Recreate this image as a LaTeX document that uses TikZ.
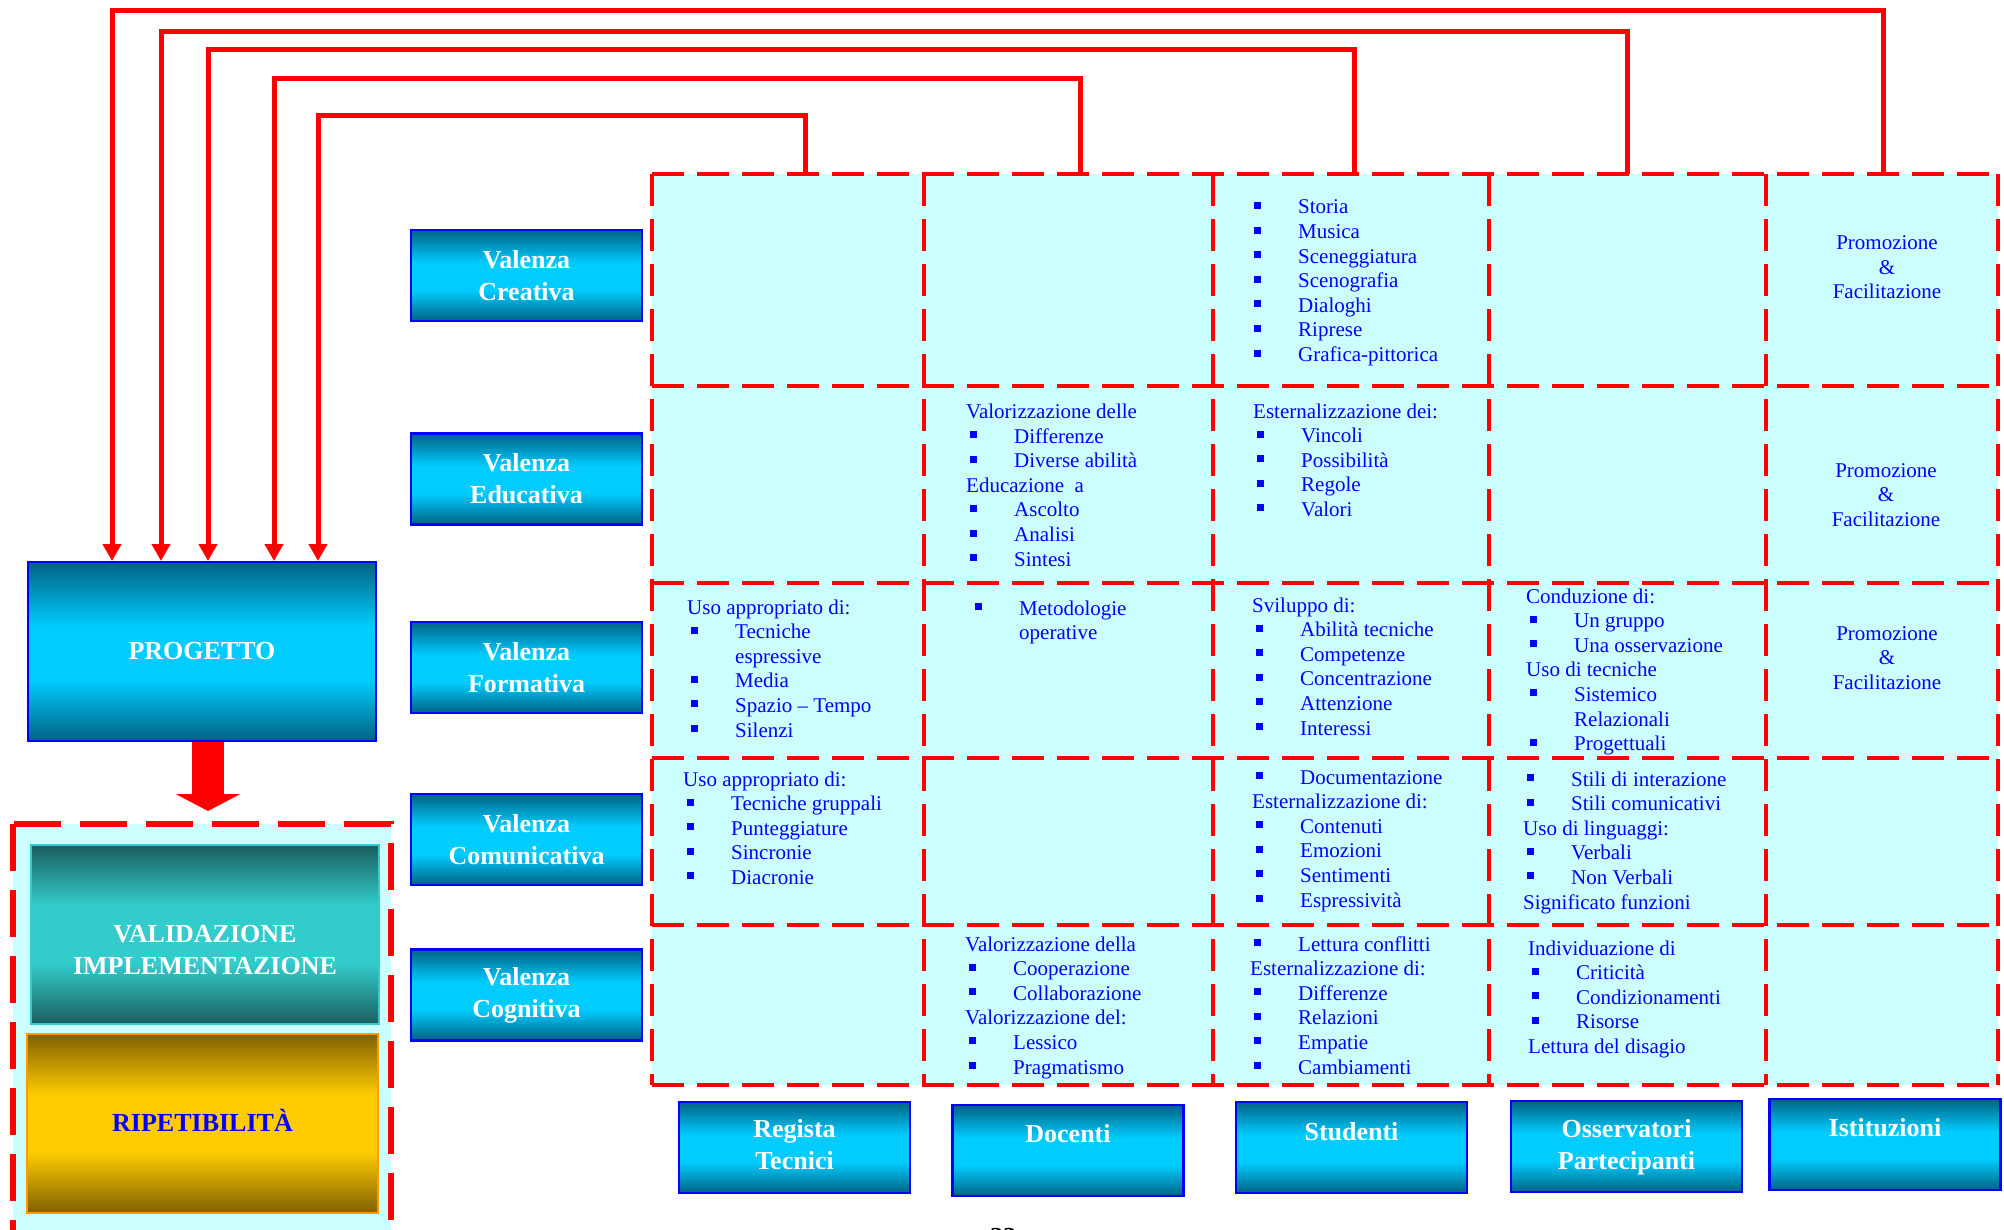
\documentclass[tikz,border=0pt]{standalone}
\usepackage{fontspec}
\setmainfont{Liberation Serif}
\usetikzlibrary{arrows.meta}
\definecolor{cdk}{HTML}{006283}
\definecolor{cmd}{HTML}{00CCFF}
\definecolor{tdk}{HTML}{1A5E5E}
\definecolor{tmd}{HTML}{33CCCC}
\definecolor{gdk}{HTML}{7F6000}
\definecolor{gmd}{HTML}{FFCC00}
\definecolor{lcyan}{HTML}{CCFFFF}
\definecolor{borange}{HTML}{FF9900}
\pgfdeclareverticalshading{cyanbar}{100bp}{color(0bp)=(cdk); color(25bp)=(cdk); color(42bp)=(cmd); color(57bp)=(cmd); color(75bp)=(cdk); color(100bp)=(cdk)}
\pgfdeclareverticalshading{tealbar}{100bp}{color(0bp)=(tdk); color(25bp)=(tdk); color(42bp)=(tmd); color(58bp)=(tmd); color(75bp)=(tdk); color(100bp)=(tdk)}
\pgfdeclareverticalshading{goldbar}{100bp}{color(0bp)=(gdk); color(25bp)=(gdk); color(42bp)=(gmd); color(58bp)=(gmd); color(75bp)=(gdk); color(100bp)=(gdk)}
\newcommand\bu{\hspace*{4pt}\makebox[44pt][l]{\rule[5pt]{7pt}{7pt}}}
\newcommand\ct{\hspace*{48pt}}
\newcommand\cellbox[1]{\parbox[t]{250pt}{\raggedright #1}}
\newcommand\promo{\parbox[t]{200pt}{\centering Promozione\\\&\\Facilitazione}}
\begin{document}
\begin{tikzpicture}[x=1pt,y=-1pt,
  vbox/.style={shade, shading=cyanbar, draw=blue, line width=2.5pt, minimum width=231pt, minimum height=91pt, inner sep=0pt, text=white, align=center, font=\fontsize{26}{32}\selectfont\bfseries},
  lbl/.style={inner sep=0pt, text=white, font=\fontsize{26}{32}\selectfont\bfseries},
  celltxt/.style={inner sep=0pt, text=blue, font=\fontsize{21}{24.6}\selectfont},
  gridline/.style={draw=red, line width=4pt, dash pattern=on 32pt off 13pt},
  conn/.style={draw=red, line width=5pt, -{Triangle[width=18pt,length=17pt]}},
  ]
\useasboundingbox (0,0) rectangle (2004,1230);
\clip (0,0) rectangle (2004,1230);

% table
\fill[lcyan] (652,174) rectangle (1998,1085);
\foreach \y in {174,386,583,758,925,1085} \draw[gridline] (652,\y) -- (1998,\y);
\foreach \x in {652,924,1213,1489,1766,1998} \draw[gridline] (\x,174) -- (\x,1085);

% left dashed container
\draw[draw=red, fill=lcyan, line width=6pt, dash pattern=on 47pt off 19pt] (13,824) rectangle (391,1262);

% valenza boxes
\node[vbox] (vcre) at (526.5,275.5) {Valenza\\Creativa};
\node[vbox] (vedu) at (526.5,479) {Valenza\\Educativa};
\node[vbox] (vfor) at (526.5,667.5) {Valenza\\Formativa};
\node[vbox] (vcom) at (526.5,839.5) {Valenza\\Comunicativa};
\node[vbox] (vcog) at (526.5,995) {Valenza\\Cognitiva};

% progetto
\node[vbox, line width=2pt, minimum width=348pt, minimum height=179pt] (prog) at (202,651.5) {PROGETTO};

% validazione / ripetibilita
\node[shade, shading=tealbar, draw=tmd, line width=2pt, minimum width=348pt, minimum height=179pt] (val) at (205,934.5) {};
\node[lbl, anchor=base] (valt) at (205,942) {\parbox[t]{340pt}{\centering VALIDAZIONE\\IMPLEMENTAZIONE}};
\node[shade, shading=goldbar, draw=borange, line width=2.5pt, minimum width=351pt, minimum height=179pt] (rip) at (202.5,1123.5) {};
\node[lbl, text=blue, anchor=base] (ript) at (202.5,1131) {RIPETIBILITÀ};

% bottom actor boxes
\node[vbox] (bRT) at (794.5,1147.5) {};
\node[lbl, anchor=base] (bRTt) at (794.5,1137) {\parbox[t]{220pt}{\centering Regista\\Tecnici}};
\node[vbox] (bDO) at (1068,1150.5) {};
\node[lbl, anchor=base] (bDOt) at (1068,1142) {Docenti};
\node[vbox] (bST) at (1351.5,1147.5) {};
\node[lbl, anchor=base] (bSTt) at (1351.5,1140) {Studenti};
\node[vbox] (bOP) at (1626.5,1146.5) {};
\node[lbl, anchor=base] (bOPt) at (1626.5,1137) {\parbox[t]{220pt}{\centering Osservatori\\Partecipanti}};
\node[vbox] (bIS) at (1885,1144.5) {};
\node[lbl, anchor=base] (bISt) at (1885,1136) {Istituzioni};

% cell texts
% row 1
\node[celltxt, anchor=base west] (s1) at (1250,214) {\cellbox{\bu Storia\\\bu Musica\\\bu Sceneggiatura\\\bu Scenografia\\\bu Dialoghi\\\bu Riprese\\\bu Grafica-pittorica}};
\node[celltxt, anchor=base] (i1) at (1887,249.5) {\promo};
% row 2
\node[celltxt, anchor=base west] (d2) at (966,418.5) {\cellbox{Valorizzazione delle\\\bu Differenze\\\bu Diverse abilità\\Educazione~~a\\\bu Ascolto\\\bu Analisi\\\bu Sintesi}};
\node[celltxt, anchor=base west] (s2) at (1253,418) {\cellbox{Esternalizzazione dei:\\\bu Vincoli\\\bu Possibilità\\\bu Regole\\\bu Valori}};
\node[celltxt, anchor=base] (i2) at (1886,477) {\promo};
% row 3
\node[celltxt, anchor=base west] (r3) at (687,614) {\cellbox{Uso appropriato di:\\\bu Tecniche\\\ct espressive\\\bu Media\\\bu Spazio -- Tempo\\\bu Silenzi}};
\node[celltxt, anchor=base west] (d3) at (971,615) {\cellbox{\bu Metodologie\\\ct operative}};
\node[celltxt, anchor=base west] (s3) at (1252,612) {\cellbox{Sviluppo di:\\\bu Abilità tecniche\\\bu Competenze\\\bu Concentrazione\\\bu Attenzione\\\bu Interessi}};
\node[celltxt, anchor=base west] (o3) at (1526,603) {\cellbox{Conduzione di:\\\bu Un gruppo\\\bu Una osservazione\\Uso di tecniche\\\bu Sistemico\\\ct Relazionali\\\bu Progettuali}};
\node[celltxt, anchor=base] (i3) at (1887,640) {\promo};
% row 4
\node[celltxt, anchor=base west] (r4) at (683,786) {\cellbox{Uso appropriato di:\\\bu Tecniche gruppali\\\bu Punteggiature\\\bu Sincronie\\\bu Diacronie}};
\node[celltxt, anchor=base west] (s4) at (1252,784) {\cellbox{\bu Documentazione\\Esternalizzazione di:\\\bu Contenuti\\\bu Emozioni\\\bu Sentimenti\\\bu Espressività}};
\node[celltxt, anchor=base west] (o4) at (1523,786) {\cellbox{\bu Stili di interazione\\\bu Stili comunicativi\\Uso di linguaggi:\\\bu Verbali\\\bu Non Verbali\\Significato funzioni}};
% row 5
\node[celltxt, anchor=base west] (d5) at (965,951) {\cellbox{Valorizzazione della\\\bu Cooperazione\\\bu Collaborazione\\Valorizzazione del:\\\bu Lessico\\\bu Pragmatismo}};
\node[celltxt, anchor=base west] (s5) at (1250,951) {\cellbox{\bu Lettura conflitti\\Esternalizzazione di:\\\bu Differenze\\\bu Relazioni\\\bu Empatie\\\bu Cambiamenti}};
\node[celltxt, anchor=base west] (o5) at (1528,955) {\cellbox{Individuazione di\\\bu Criticità\\\bu Condizionamenti\\\bu Risorse\\Lettura del disagio}};

% connectors from the table to PROGETTO
\coordinate (c1) at (805,174);
\coordinate (c2) at (1080,174);
\coordinate (c3) at (1354,174);
\coordinate (c4) at (1627,174);
\coordinate (c5) at (1883,174);
\coordinate (h1) at (318,116);
\coordinate (h2) at (274,79);
\coordinate (h3) at (208,50);
\coordinate (h4) at (161,32);
\coordinate (h5) at (112,11);
\draw[conn] (c1) |- (h1) -- (h1 |- prog.north);
\draw[conn] (c2) |- (h2) -- (h2 |- prog.north);
\draw[conn] (c3) |- (h3) -- (h3 |- prog.north);
\draw[conn] (c4) |- (h4) -- (h4 |- prog.north);
\draw[conn] (c5) |- (h5) -- (h5 |- prog.north);

% big arrow
\coordinate (btip) at (208,811);
\draw[red, line width=32pt, -{Triangle[width=64pt,length=17pt]}] (prog.south -| btip) -- (btip);

% page number (cut off at the lower edge, as in the reference)
\node[inner sep=0pt, anchor=base, font=\fontsize{26}{30}\selectfont\bfseries] (pnum) at (1003,1245) {22};
\end{tikzpicture}
\end{document}
